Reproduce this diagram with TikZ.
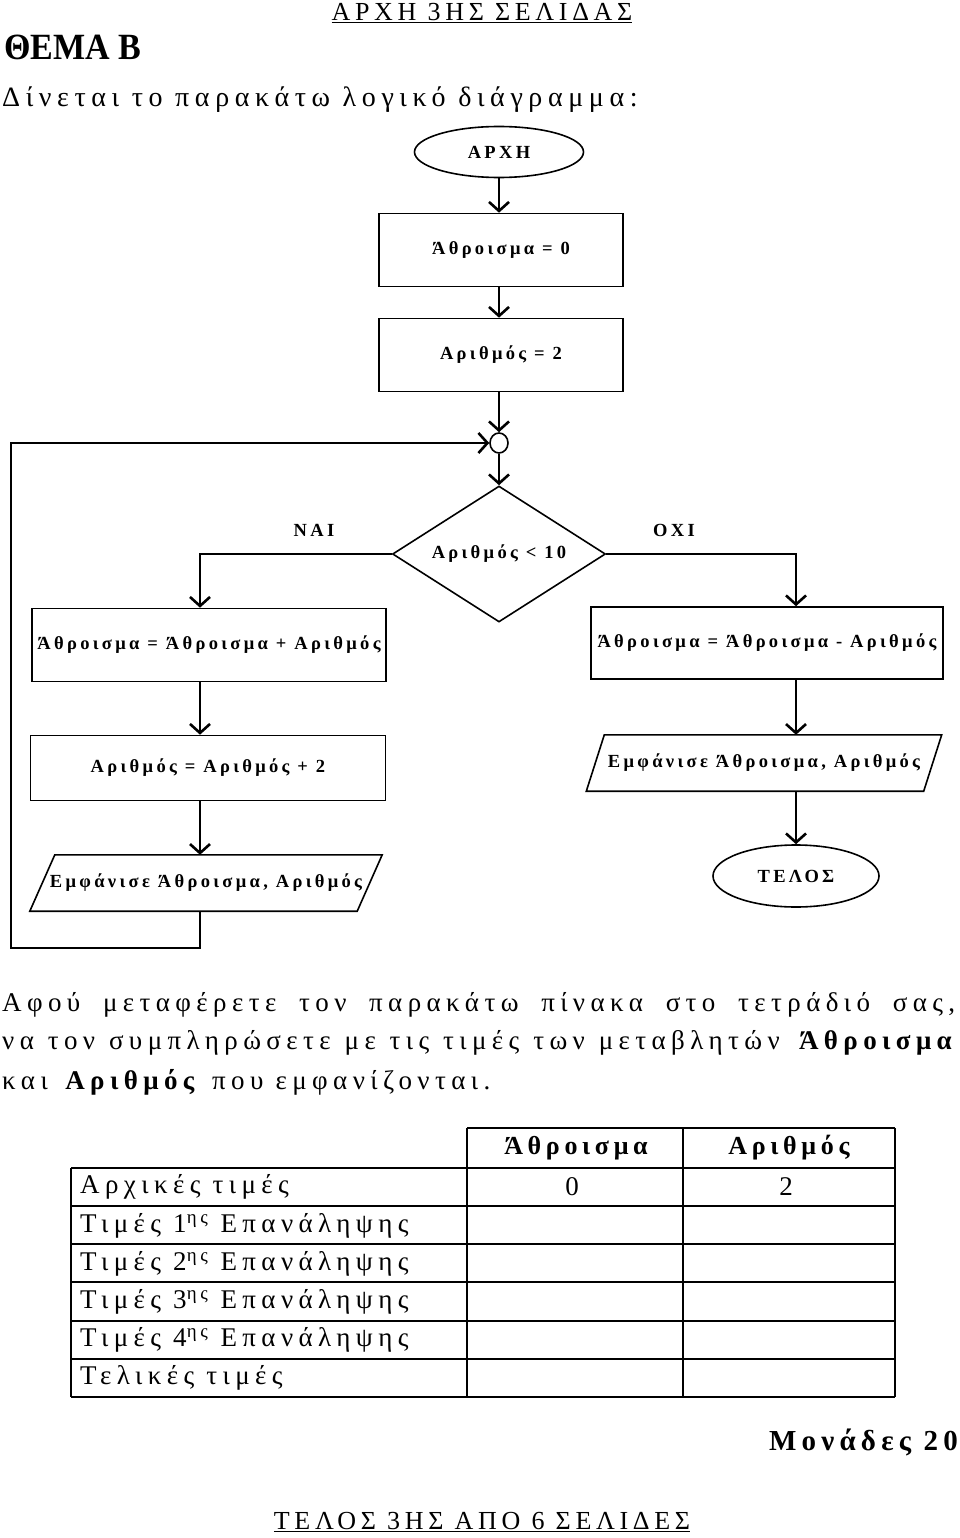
\documentclass[tikz,border=0pt]{standalone}
\usepackage{fontspec}
\setmainfont{Liberation Serif}
\newfontfamily\spaced{Liberation Serif}[LetterSpace=18]
\newfontfamily\wide{Liberation Serif}[LetterSpace=20]
\newfontfamily\tight{Liberation Serif}[FakeStretch=0.92]
\usetikzlibrary{shapes.geometric,arrows.meta}

\begin{document}
\begin{tikzpicture}[x=1pt,y=-1pt,
        flow/.style={draw,line width=1.6pt,inner sep=0pt,
                     font=\spaced\bfseries\fontsize{18.5}{22}\selectfont},
        box/.style={flow,rectangle},
        term/.style={flow,ellipse},
        io/.style={inner sep=0pt,font=\spaced\bfseries\fontsize{18.5}{22}\selectfont},
        arr/.style={line width=2.6pt,-{Straight Barb[length=9pt,width=20pt]}},
        txt/.style={inner sep=0pt,font=\wide\fontsize{27}{30}\selectfont},
        grid/.style={line width=1.3pt}]
    \useasboundingbox (0,0) rectangle (960,1538);

    % page head
    \node[txt,font=\spaced\fontsize{26}{28}\selectfont] (pagetop) at (482,13) {\underline{ΑΡΧΗ 3ΗΣ ΣΕΛΙΔΑΣ}};
    \node[txt,anchor=west,font=\tight\bfseries\fontsize{37}{40}\selectfont] (topic) at (4,47) {ΘΕΜΑ Β};
    \node[txt,anchor=west,font=\wide\fontsize{28}{30}\selectfont] (intro) at (2,100) {Δίνεται το παρακάτω λογικό διάγραμμα:};

    % flowchart
    \coordinate (mcol) at (499,0);
    \coordinate (lcol) at (200,0);
    \coordinate (rcol) at (796,0);
    \coordinate (back) at (11,948);

    \node[term,minimum width=169pt,minimum height=51pt] (start) at (499,152) {ΑΡΧΗ};
    \node[box,minimum width=244pt,minimum height=73pt] (sumzero) at (501,250) {Άθροισμα = 0};
    \node[box,minimum width=244pt,minimum height=73pt] (numtwo) at (501,355) {Αριθμός = 2};
    \node[draw,ellipse,line width=1.6pt,inner sep=0pt,minimum width=18pt,minimum height=20pt] (join) at (499,443) {};
    \node[flow,diamond,aspect=1.57,minimum width=213pt,minimum height=136pt] (cond) at (499,554) {Αριθμός < 10};
    \node[io] (yes) at (314,530) {ΝΑΙ};
    \node[io] (no) at (674,530) {ΟΧΙ};

    \node[box,minimum width=354pt,minimum height=73pt] (sumadd) at (209,645) {Άθροισμα = Άθροισμα + Αριθμός};  %NAI
    \node[box,minimum width=355pt,minimum height=65pt] (numadd) at (208,768) {Αριθμός = Αριθμός + 2};
    \node[io,minimum width=327pt,minimum height=56pt] (showL) at (206,883) {Εμφάνισε Άθροισμα, Αριθμός};
    \draw[line width=1.6pt] ([xshift=12.5pt]showL.north west) -- ([xshift=12.5pt]showL.north east)
        -- ([xshift=-12.5pt]showL.south east) -- ([xshift=-12.5pt]showL.south west) -- cycle;

    \node[box,minimum width=352pt,minimum height=72pt] (sumsub) at (767,643) {Άθροισμα = Άθροισμα - Αριθμός};  %OXI
    \node[io,minimum width=337pt,minimum height=56pt] (showR) at (764,763) {Εμφάνισε Άθροισμα, Αριθμός};
    \draw[line width=1.6pt] ([xshift=9pt]showR.north west) -- ([xshift=9pt]showR.north east)
        -- ([xshift=-9pt]showR.south east) -- ([xshift=-9pt]showR.south west) -- cycle;
    \node[term,minimum width=166pt,minimum height=62pt] (end) at (796,876) {ΤΕΛΟΣ};

    \draw[arr] (mcol |- start.south) -- (mcol |- sumzero.north);
    \draw[arr] (mcol |- sumzero.south) -- (mcol |- numtwo.north);
    \draw[arr] (mcol |- numtwo.south) -- (join.north);
    \draw[arr] (join.south) -- (cond.north);
    \draw[arr] (cond.west) -| (lcol |- sumadd.north);
    \draw[arr] (cond.east) -| (rcol |- sumsub.north);
    \draw[arr] (lcol |- sumadd.south) -- (lcol |- numadd.north);
    \draw[arr] (lcol |- numadd.south) -- (lcol |- showL.north);
    \draw[arr] (lcol |- showL.south) |- (back) |- (join.west);   %loop
    \draw[arr] (rcol |- sumsub.south) -- (rcol |- showR.north);
    \draw[arr] (rcol |- showR.south) -- (end.north);

    % question text
    \node[txt,anchor=west] (par1) at (2,1005) {\makebox[953pt][s]{Αφού μεταφέρετε τον παρακάτω πίνακα στο τετράδιό σας,}};
    \node[txt,anchor=west] (par2) at (2,1043) {\makebox[955pt][s]{να τον συμπληρώσετε με τις τιμές των μεταβλητών \textbf{Άθροισμα}}};
    \node[txt,anchor=west] (par3) at (2,1082) {και \textbf{Αριθμός} που εμφανίζονται.};

    % table
    \draw[grid] (467,1128) -- (895,1128);
    \foreach \y in {1168,1206,1244,1282,1321,1359,1397}
        \draw[grid] (71,\y) -- (895,\y);
    \draw[grid] (71,1168) -- (71,1397);
    \foreach \x in {467,683,895}
        \draw[grid] (\x,1128) -- (\x,1397);
    \node[txt,font=\spaced\bfseries\fontsize{26}{30}\selectfont] (hsum) at (576,1148) {Άθροισμα};
    \node[txt,font=\spaced\bfseries\fontsize{26}{30}\selectfont] (hnum) at (789,1148) {Αριθμός};
    \foreach \lbl [count=\i] in {{Αρχικές τιμές},{Τιμές 1\textsuperscript{ης} Επανάληψης},
            {Τιμές 2\textsuperscript{ης} Επανάληψης},{Τιμές 3\textsuperscript{ης} Επανάληψης},
            {Τιμές 4\textsuperscript{ης} Επανάληψης},{Τελικές τιμές}}
        \node[txt,anchor=west] (row\i) at (80,{1149+38.2*\i}) {\lbl};
    \node[txt] (vsum) at (572,1187) {0};
    \node[txt] (vnum) at (786,1187) {2};

    % page foot
    \node[txt,anchor=east,font=\spaced\bfseries\fontsize{29}{32}\selectfont] (marks) at (958,1442) {Μονάδες 20};
    \node[txt,font=\spaced\fontsize{26}{28}\selectfont] (pagebottom) at (482,1522) {\underline{ΤΕΛΟΣ 3ΗΣ ΑΠΟ 6 ΣΕΛΙΔΕΣ}};
\end{tikzpicture}
\end{document}
